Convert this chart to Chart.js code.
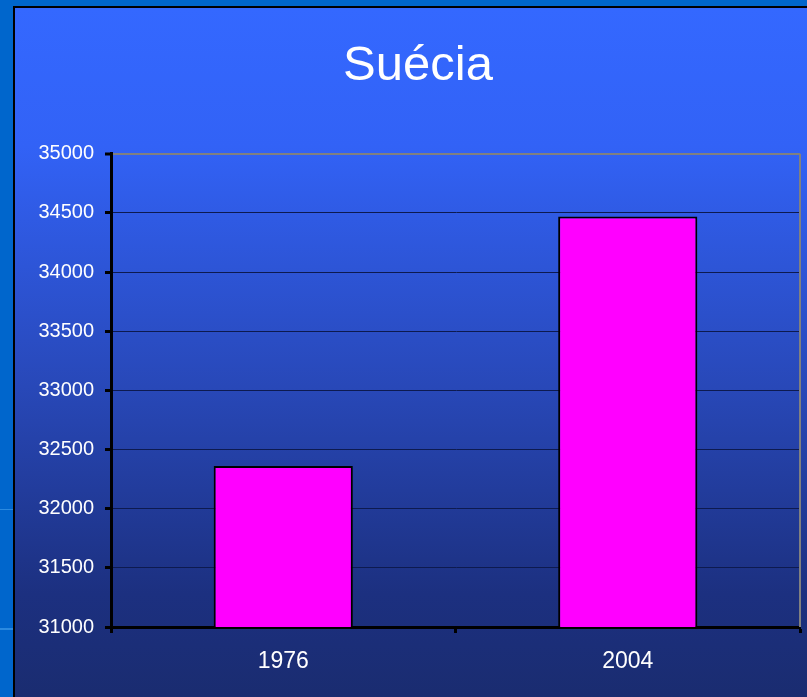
<!DOCTYPE html>
<html>
<head>
<meta charset="utf-8">
<script src="https://cdn.jsdelivr.net/npm/chart.js@4/dist/chart.umd.min.js"></script>
<style>
  html, body { margin: 0; padding: 0; background: #0066cc; }
  #wrap { width: 807px; height: 697px; }
</style>
</head>
<body>
<div id="wrap"><canvas id="chart" width="807" height="697"></canvas></div>
<script>
const categories = ['1976', '2004'];
const values = [32360, 34470];
const yMin = 31000;
const yMax = 35000;
const yStep = 500;

// fundo do slide + painel com gradiente
const backgroundPlugin = {
    id: 'slideBackground',
    beforeDraw(chart) {
        const { ctx, width, height } = chart;
        ctx.save();
        ctx.fillStyle = '#0066cc';
        ctx.fillRect(0, 0, width, height);
        // detalhes claros na faixa da esquerda
        ctx.fillStyle = '#2b8ae0';
        ctx.fillRect(0, 509, 14, 1);
        ctx.fillRect(0, 628, 14, 2);
        const grad = ctx.createLinearGradient(0, 8, 0, height);
        grad.addColorStop(0, '#3468ff');
        grad.addColorStop(0.2, '#3262f6');
        grad.addColorStop(0.55, '#2848b8');
        grad.addColorStop(0.85, '#1c3080');
        grad.addColorStop(1, '#1a2c70');
        ctx.fillStyle = grad;
        ctx.fillRect(15, 8, width - 15, height - 8);
        ctx.strokeStyle = '#000000';
        ctx.lineWidth = 2;
        ctx.beginPath();
        ctx.moveTo(14, height);
        ctx.lineTo(14, 7);
        ctx.lineTo(width, 7);
        ctx.stroke();
        ctx.restore();
    },
    afterDatasetsDraw(chart) {
        // borda cinza à direita da área do gráfico
        const { ctx, chartArea } = chart;
        ctx.save();
        ctx.strokeStyle = '#808080';
        ctx.lineWidth = 2;
        ctx.beginPath();
        ctx.moveTo(chartArea.right, chartArea.top);
        ctx.lineTo(chartArea.right, chartArea.bottom);
        ctx.stroke();
        ctx.restore();
    }
};

const ctx = document.getElementById('chart');
new Chart(ctx, {
    type: 'bar',
    data: {
        labels: categories,
        datasets: [{
            data: values,
            backgroundColor: '#ff00ff',
            borderColor: '#000000',
            borderWidth: 2,
            borderSkipped: false,
            barPercentage: 0.404,
            categoryPercentage: 1
        }]
    },
    options: {
        responsive: false,
        animation: false,
        layout: { padding: { left: 36, right: 7, top: 0, bottom: 0 } },
        plugins: {
            legend: { display: false },
            tooltip: { enabled: false },
            title: {
                display: true,
                text: 'Suécia',
                color: '#ffffff',
                font: { family: "'Liberation Sans', Arial, sans-serif", size: 49, weight: 'normal', lineHeight: 1.2 },
                padding: { top: 37, bottom: 58 }
            }
        },
        scales: {
            y: {
                min: yMin,
                max: yMax,
                ticks: {
                    stepSize: yStep,
                    color: '#ffffff',
                    padding: 11,
                    callback: v => String(v),
                    font: { family: "'Liberation Sans', Arial, sans-serif", size: 20 }
                },
                grid: {
                    color: c => (c.tick && c.tick.value === yMax ? '#808080' : '#0d1a50'),
                    lineWidth: c => (c.tick && c.tick.value === yMax ? 2 : 1),
                    tickColor: '#000000',
                    tickWidth: 3,
                    tickLength: 6
                },
                border: { color: '#000000', width: 3 },
                afterFit: scale => { scale.width = 75; }
            },
            x: {
                ticks: {
                    color: '#ffffff',
                    padding: 15,
                    font: { family: "'Liberation Sans', Arial, sans-serif", size: 23 }
                },
                grid: {
                    offset: true,
                    drawOnChartArea: false,
                    color: '#000000',
                    tickColor: '#000000',
                    tickWidth: 3,
                    tickLength: 6
                },
                border: { color: '#000000', width: 3 },
                afterFit: scale => { scale.height = 70; }
            }
        }
    },
    plugins: [backgroundPlugin]
});
</script>
</body>
</html>
